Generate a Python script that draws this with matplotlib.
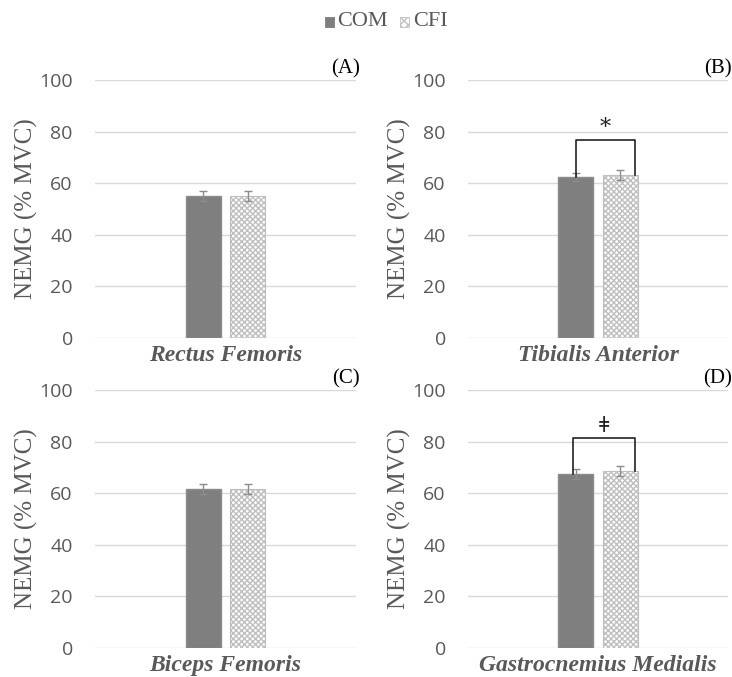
import matplotlib.pyplot as plt

muscles = ["Rectus Femoris", "Tibialis Anterior", "Biceps Femoris", "Gastrocnemius Medialis"]
panel_tags = ["(A)", "(B)", "(C)", "(D)"]
com_mean = [55.0, 62.5, 61.5, 67.5]
com_err = [2.0, 1.5, 2.0, 2.0]
cfi_mean = [55.0, 63.3, 61.5, 68.5]
cfi_err = [2.0, 2.0, 2.0, 2.0]
# significance brackets: (panel index, top level, symbol)
sig_marks = [(1, 76.7, "*"), (3, 81.4, "ǂ")]
yticks = [0, 20, 40, 60, 80, 100]

serif = ["Liberation Serif", "DejaVu Serif"]
tick_font = "Open Sans"
gray_txt = "#595959"
plt.rcParams["hatch.color"] = "#bfbfbf"

fig = plt.figure(figsize=(7.32, 6.77), dpi=100)
W, H = 732, 677
boxes = [(95, 80, 356, 338), (468, 80, 728, 338),
         (95, 390, 356, 648), (468, 390, 728, 648)]

off = 0.085
bw = 0.135
for i, (x0, y0, x1, y1) in enumerate(boxes):
    ax = fig.add_axes([x0 / W, 1 - y1 / H, (x1 - x0) / W, (y1 - y0) / H])
    ax.bar(-off, com_mean[i], width=bw, color="#7f7f7f", edgecolor="#8c8c8c",
           yerr=com_err[i], error_kw=dict(ecolor="#8c8c8c", capsize=3, elinewidth=1))
    ax.bar(off, cfi_mean[i], width=bw, color="white", edgecolor="#bfbfbf",
           hatch="xxxxxx", linewidth=0.8,
           yerr=cfi_err[i], error_kw=dict(ecolor="#8c8c8c", capsize=3, elinewidth=1))
    ax.set_xlim(-0.5, 0.5)
    ax.set_ylim(0, 100)
    ax.set_yticks(yticks)
    ax.set_xticks([])
    ax.yaxis.grid(True, color="#d9d9d9", linewidth=1)
    ax.set_axisbelow(True)
    for s in ax.spines.values():
        s.set_visible(False)
    ax.tick_params(axis="y", length=0, pad=16, labelsize=14, labelcolor=gray_txt)
    for lab in ax.get_yticklabels():
        lab.set_fontfamily(tick_font)
    ax.set_ylabel("NEMG (% MVC)", fontsize=18, family=serif, color=gray_txt, labelpad=1)
    ax.text(0.5, -0.068, muscles[i], transform=ax.transAxes, ha="center", va="center",
            fontsize=17, family=serif, weight="bold", style="italic", color=gray_txt)
    ax.text(1.015, 1.045, panel_tags[i], transform=ax.transAxes, ha="right", va="center",
            fontsize=15, family=serif, color="black")

    for pi, top, sym in sig_marks:
        if pi != i:
            continue
        lx = -off + (-0.012 if i == 3 else 0.0)
        rx = off + bw / 2 - 0.01
        ax.plot([lx, lx, rx, rx], [com_mean[i], top, top, cfi_mean[i]],
                color="#222222", linewidth=1.2, clip_on=False)
        ax.text((lx + rx) / 2, top + 0.5, sym, ha="center", va="bottom",
                fontsize=16, family=["DejaVu Serif"], color="#222222")

# legend at top
fig.patches.append(plt.Rectangle((325 / W, 1 - 27 / H), 9 / W, 10 / H, transform=fig.transFigure,
                                 facecolor="#7f7f7f", edgecolor="#7f7f7f", linewidth=0.6))
fig.text(337 / W, 1 - 22 / H, "COM", fontsize=16, family=serif, color=gray_txt, ha="left", va="center")
fig.patches.append(plt.Rectangle((400 / W, 1 - 27 / H), 9 / W, 10 / H, transform=fig.transFigure,
                                 facecolor="white", edgecolor="#bfbfbf", hatch="xxxx", linewidth=0.6))
fig.text(413 / W, 1 - 22 / H, "CFI", fontsize=16, family=serif, color=gray_txt, ha="left", va="center")

fig.savefig("out.png", dpi=100)
